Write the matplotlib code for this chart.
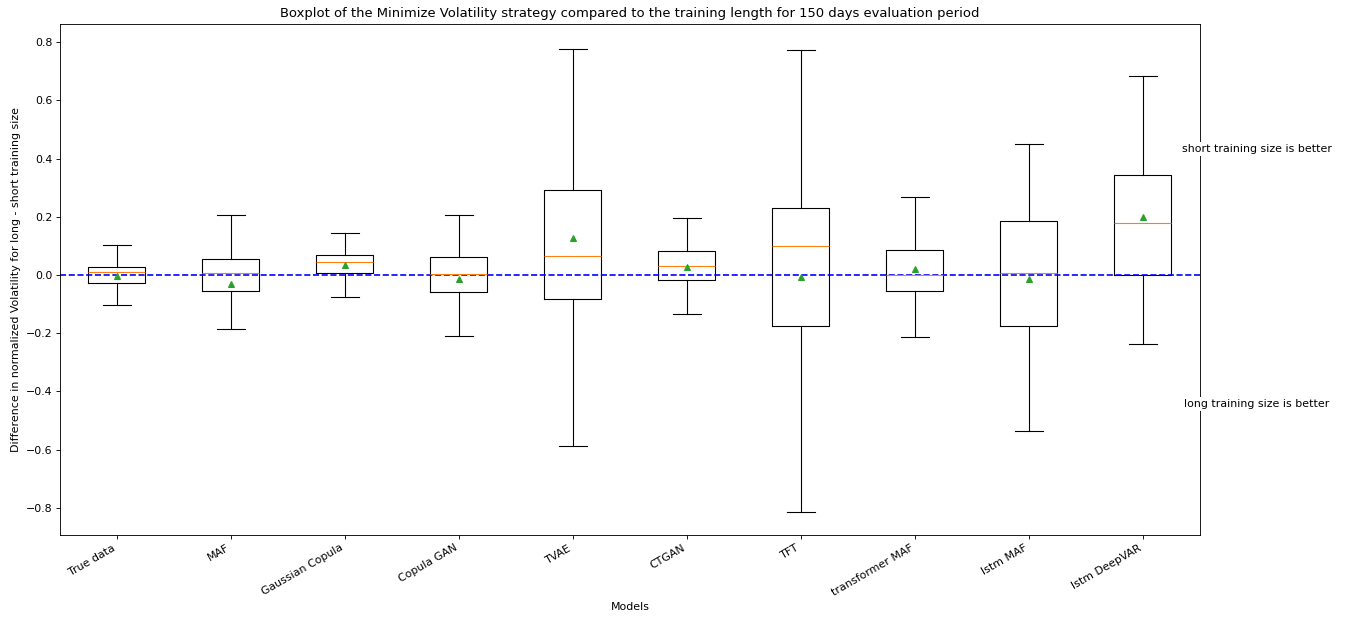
import matplotlib
matplotlib.use("Agg")
import matplotlib.pyplot as plt

models = ["True data", "MAF", "Gaussian Copula", "Copula GAN", "TVAE", "CTGAN",
          "TFT", "transformer MAF", "lstm MAF", "lstm DeepVAR"]
whislo = [-0.104, -0.186, -0.074, -0.209, -0.588, -0.133, -0.814, -0.212, -0.536, -0.236]
q1     = [-0.028, -0.055, 0.007, -0.058, -0.081, -0.017, -0.175, -0.055, -0.176, 0.001]
med    = [0.010, 0.008, 0.043, 0.005, 0.064, 0.030, 0.100, 0.000, 0.007, 0.179]
q3     = [0.026, 0.054, 0.070, 0.063, 0.291, 0.081, 0.229, 0.085, 0.184, 0.343]
whishi = [0.102, 0.206, 0.145, 0.206, 0.777, 0.197, 0.773, 0.267, 0.450, 0.682]
means  = [-0.005, -0.032, 0.033, -0.015, 0.126, 0.029, -0.008, 0.020, -0.013, 0.199]

stats = []
for i, m in enumerate(models):
    stats.append(dict(label=m, whislo=whislo[i], q1=q1[i], med=med[i], q3=q3[i],
                      whishi=whishi[i], mean=means[i], fliers=[]))

DPI = 79
fig = plt.figure(figsize=(1346 / DPI, 617 / DPI), dpi=DPI)
ax = fig.add_axes([60/1346, 1 - 535/617, 1140/1346, (535-24)/617])
ax.bxp(stats, showmeans=True)
ax.axhline(0, color='b', linestyle='--')
ax.set_ylim(-0.893, 0.862)
ax.set_xlim(0.5, 10.5)
ax.set_title("Boxplot of the Minimize Volatility strategy compared to the training length for 150 days evaluation period")
ax.set_xlabel("Models")
ax.set_ylabel("Difference in normalized Volatility for long - short training size")
plt.setp(ax.get_xticklabels(), rotation=30, ha='right')
ax.text(11.0, 0.433, "short training size is better", ha='center', va='center',
        bbox=dict(facecolor='white', edgecolor='none', pad=2), clip_on=False, zorder=5)
ax.text(11.0, -0.443, "long training size is better", ha='center', va='center',
        bbox=dict(facecolor='white', edgecolor='none', pad=2), clip_on=False, zorder=5)
fig.savefig("out.png", dpi=DPI)
